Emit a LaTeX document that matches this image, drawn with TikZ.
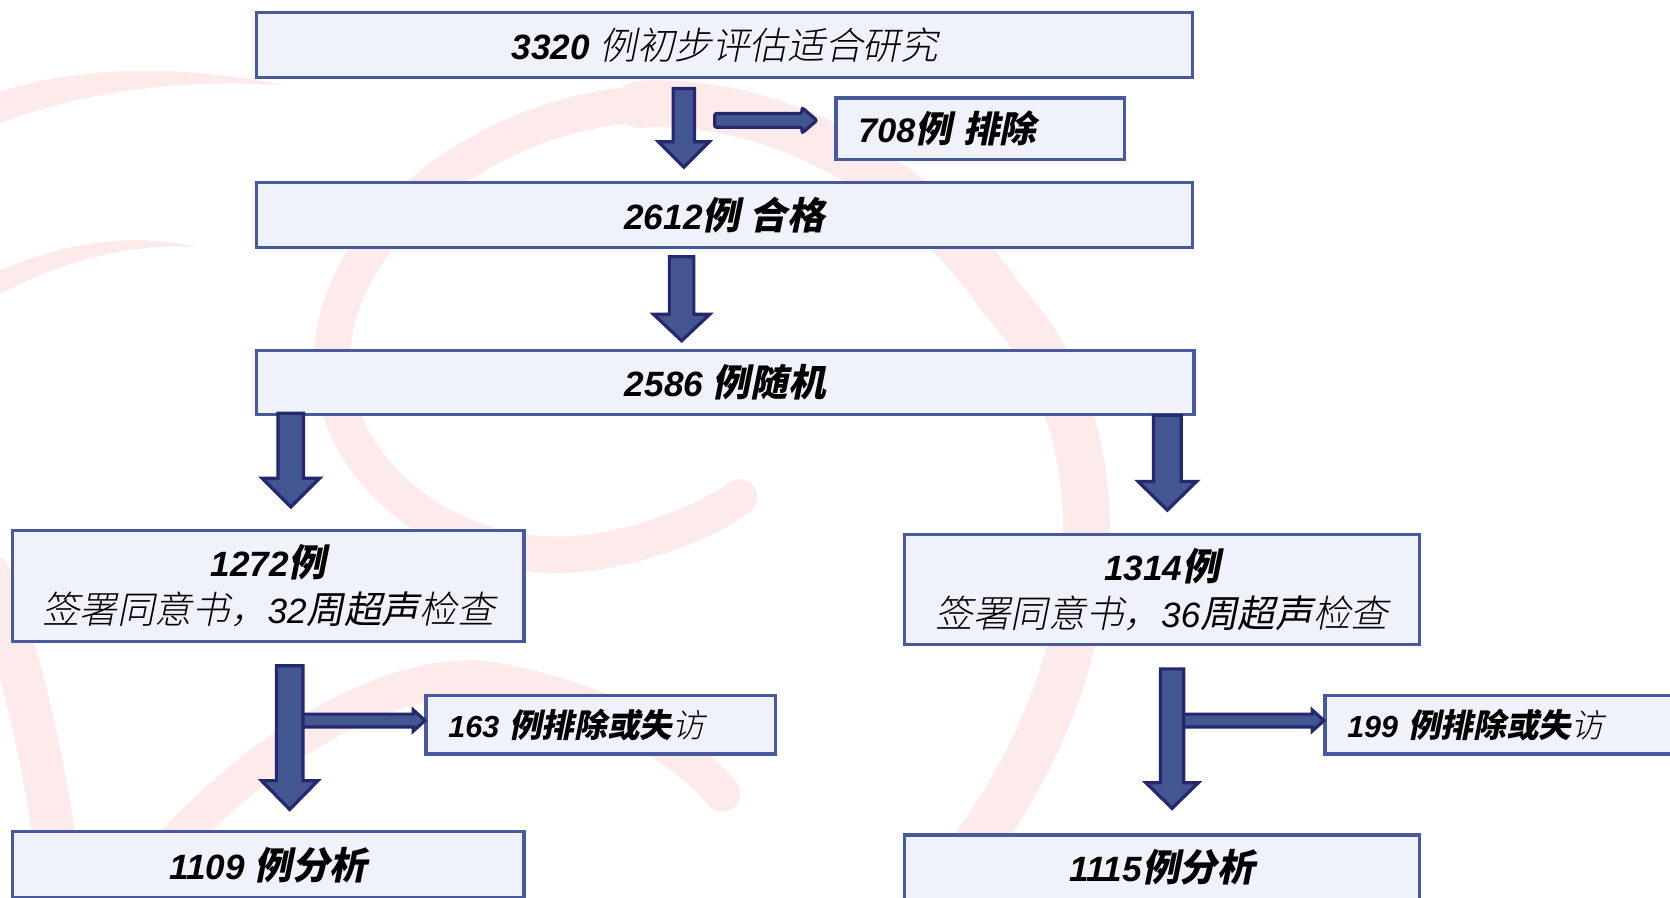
\documentclass[tikz,border=0pt]{standalone}
\usepackage{fontspec}
\setmainfont{Liberation Sans}
\newfontfamily\cjk{Noto Sans CJK SC}[FakeSlant=0.2,Scale=1.07]
\newfontfamily\cjkl{Noto Sans CJK SC Light}[FakeSlant=0.2,Scale=1.07]
\usetikzlibrary{calc}
\definecolor{boxfill}{RGB}{239,242,251}
\definecolor{boxline}{RGB}{72,90,155}
\definecolor{arrfill}{RGB}{68,86,145}
\definecolor{arrline}{RGB}{38,40,110}
\definecolor{pinkbg}{RGB}{253,235,236}
\newcommand\zb[1]{{\cjk\bfseries #1}}
\newcommand\zr[1]{{\cjk #1}}
\newcommand\zl[1]{{\cjkl #1}}
\newcommand\nb[1]{{\bfseries\itshape #1}}
\newcommand\nit[1]{{\itshape #1}}
% vertical block arrow: x, ytop, ytip, half shaft, half head, head length
\newcommand\varrow[7]{%
  \draw[blk] (#2-#5,#3) -- (#2+#5,#3) -- (#2+#5,#4-#7) -- (#2+#6,#4-#7) -- (#2,#4) coordinate (#1)
    -- (#2-#6,#4-#7) -- (#2-#5,#4-#7) -- cycle;}
% horizontal block arrow: y, xleft, xtip, half shaft, half head, head length
\newcommand\harrow[8]{%
  \draw[blk,#8] (#3,#2-#5) -- (#4-#7,#2-#5) -- (#4-#7,#2-#6) -- (#4,#2) coordinate (#1) -- (#4-#7,#2+#6)
    -- (#4-#7,#2+#5) -- (#3,#2+#5) -- cycle;}
\begin{document}
\begin{tikzpicture}[x=0.5pt,y=-0.5pt,
  box/.style={draw=boxline, fill=boxfill, line width=1.5pt, inner sep=0pt, align=center,
    font=\fontsize{16.5}{22}\selectfont},
  sidebox/.style={box, align=left, inner xsep=10.5pt},
  blk/.style={draw=arrline, fill=arrfill, line width=1.5pt, line join=miter},
  band/.style={pinkbg, line cap=round}]
\useasboundingbox (0,0) rectangle (1568,843);
\clip (0,0) rectangle (1568,843);
\fill[white] (0,0) rectangle (1568,843);
% background watermark
\fill[pinkbg] (0,86) .. controls (80,60) and (180,62) .. (266,80) .. controls (180,74) and (80,84) .. (0,116) -- cycle;
\fill[pinkbg] (0,254) .. controls (60,228) and (120,218) .. (186,232) .. controls (120,228) and (60,245) .. (0,276) -- cycle;
\draw[band, line width=22pt] (840,880) .. controls (1030,700) and (1080,430) .. (940,280) .. controls (860,160) and (720,90) .. (600,98);
\draw[band, line width=17pt] (600,98) .. controls (480,105) and (340,190) .. (315,307) .. controls (290,430) and (420,540) .. (560,518) .. controls (620,508) and (670,485) .. (694,467);
\draw[band, line width=20pt] (-10,540) .. controls (20,620) and (45,720) .. (62,870);
\draw[band, line width=17pt] (100,870) .. controls (220,700) and (380,620) .. (470,640) .. controls (570,660) and (640,700) .. (678,745);
% boxes
\node[box, minimum width=439.5pt, minimum height=30.5pt] (b1) at (680.5,42.5)
  {\nb{3320} \zl{例初步评估适合研究}};
\node[sidebox, text width=114.5pt, minimum height=29pt, font=\fontsize{16}{20}\selectfont] (x1) at (920.5,121)
  {\nb{708}\zb{例} \zb{排除}};
\node[box, minimum width=439.5pt, minimum height=30.5pt] (b2) at (680.5,201.5)
  {\nb{2612}\zb{例} \zb{合格}};
\node[box, minimum width=440pt, minimum height=30pt] (b3) at (681,359)
  {\nb{2586} \zb{例随机}};
\node[box, minimum width=240pt, minimum height=52pt] (l1) at (252,550)
  {\nb{1272}\zb{例}\\\zl{签署同意书，}\nit{32}\zr{周超声}\zl{检查}};
\node[box, minimum width=242pt, minimum height=51.5pt] (r1) at (1091,553.5)
  {\nb{1314}\zb{例}\\\zl{签署同意书，}\nit{36}\zr{周超声}\zl{检查}};
\node[sidebox, text width=143pt, minimum height=27.5pt, font=\fontsize{14.3}{18}\selectfont] (lx) at (564,680.5)
  {\nb{163} \zb{例排除或失}\zl{访}};
\node[sidebox, text width=156.5pt, minimum height=27.5pt, font=\fontsize{14.3}{18}\selectfont] (rx) at (1421.5,680.5)
  {\nb{199} \zb{例排除或失}\zl{访}};
\node[box, minimum width=240pt, minimum height=31pt] (l2) at (252,812)
  {\nb{1109} \zb{例分析}};
\node[box, minimum width=242pt, minimum height=30.5pt] (r2) at (1091,814.5)
  {\nb{1115}\zb{例分析}};
% arrows
\varrow{a1}{642}{83}{157}{10}{24}{24}
\harrow{h1}{113}{671}{767}{6.5}{12}{14}{rounded corners=1pt}
\varrow{a2}{640}{241}{320}{11.5}{26.5}{25}
\varrow{a3}{273}{388}{476}{12}{27}{27}
\varrow{a4}{1096}{390}{479}{13}{27.5}{27}
\harrow{h2}{676.5}{280}{399}{6}{10}{11}{}
\varrow{a5}{272}{625}{760}{12.5}{26.5}{27}
\harrow{h3}{676.5}{1108}{1243}{6}{10}{11}{}
\varrow{a6}{1100.5}{628}{759}{11}{24.5}{24}
\end{tikzpicture}
\end{document}
